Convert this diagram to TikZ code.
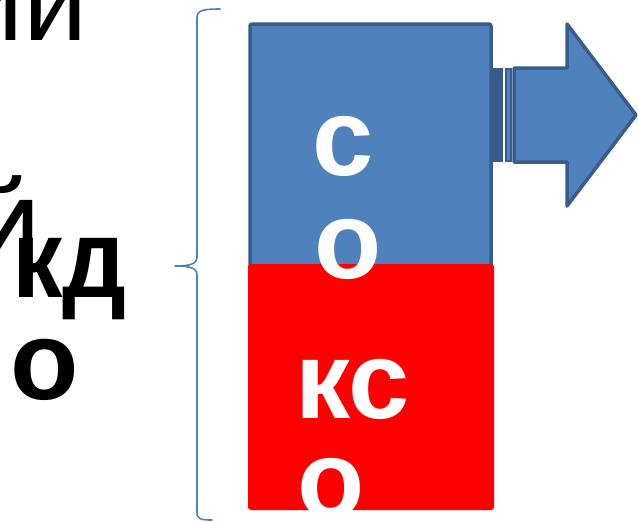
\documentclass[tikz,border=0pt]{standalone}
\usepackage{fontspec}
\setmainfont{Liberation Sans}
\definecolor{boxblue}{HTML}{4F81BD}
\definecolor{edgeblue}{HTML}{385D8A}
\definecolor{boxred}{HTML}{FF0000}
\begin{document}
\begin{tikzpicture}[x=1pt,y=-1pt,
  bigtext/.style={inner sep=0pt,font=\fontsize{115}{115}\selectfont},
  boldtext/.style={inner sep=0pt,font=\fontsize{112}{112}\selectfont\bfseries},
  whitetext/.style={inner sep=0pt,text=white,font=\fontsize{110}{110}\selectfont\bfseries},
  bracepen/.style={draw=boxblue,line width=1.6pt,line cap=round,line join=round},
  blockedge/.style={draw=edgeblue,line width=3.5pt,line join=round}]
\useasboundingbox (0,0) rectangle (638,522);
\clip (0,0) rectangle (638,522);

% text running in from the left
\node[bigtext,anchor=base east] (t1) at (88,40) {ии};
\node[bigtext,anchor=base east] (t2) at (42,279) {Й};
\node[boldtext,anchor=base west,xscale=0.9] (t3) at (12,297) {кд};
\node[boldtext,anchor=base west] (t4) at (10,399) {о};

% curly brace
\draw[bracepen] (220,9) .. controls (201,9) and (197,11) .. (197,18)
  -- (197,257) .. controls (197,264) and (190,266) .. (175,266)
  .. controls (190,266) and (197,268) .. (197,275)
  -- (197,512) .. controls (197,519) and (200,520) .. (212,520);

% upper block
\draw[blockedge,fill=boxblue,rounded corners=2pt] (250,24) rectangle (491,268);

% striped arrow
\fill[edgeblue] (491,68) rectangle (503,162);
\draw[draw=edgeblue,line width=2pt,fill=boxblue] (506,69) rectangle (511,161);
\draw[blockedge,fill=boxblue] (514,68) -- (567,68) -- (567,24) -- (636,115)
  -- (567,206) -- (567,162) -- (514,162) -- cycle;

% lower block
\fill[boxred,rounded corners=3pt] (248,264) rectangle (494,510);

% labels
\node[whitetext,anchor=base west] (s1) at (312,175) {с};
\node[whitetext,anchor=base west] (s2) at (314,278) {о};
\node[whitetext,anchor=base west] (s3) at (295,418) {кс};
\node[whitetext,anchor=base west] (s4) at (297,517) {о};
\end{tikzpicture}
\end{document}
